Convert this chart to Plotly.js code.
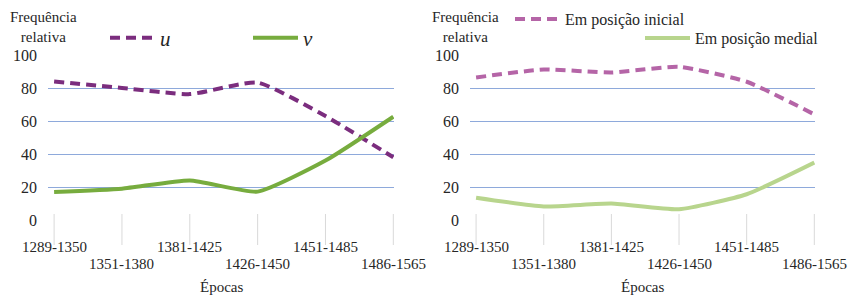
<!DOCTYPE html>
<html><head><meta charset="utf-8">
<script src="https://cdn.plot.ly/plotly-3.0.1.min.js"></script>
<style>
html,body{margin:0;padding:0;background:#fff}
#chart text{font-family:"Liberation Serif","Times New Roman",serif !important;}
#tick{position:absolute;left:0;top:0;font:1px "Liberation Serif";color:#fff}
</style>
</head><body>
<div id="chart" style="width:850px;height:296px"></div>
<span id="tick">.</span>
<script>
const categories = ["1289-1350","1351-1380","1381-1425","1426-1450","1451-1485","1486-1565"];
const uValues = [84, 80, 76.3, 83.3, 63, 38];
const vValues = [17, 19, 24, 17.2, 36, 62.6];
const inicialValues = [86.4, 91.2, 89.4, 92.8, 83.8, 64];
const medialValues = [13.5, 8.2, 10, 6.5, 15.6, 34.8];
const yTickVals = [0, 20, 40, 60, 80, 100];
const yTitle = "Frequência<br>relativa";
const xTitle = "Épocas";

const W = 850, H = 296;
const serif = "Liberation Serif";
const txt = "#262626";
const grid = "#8EA9DB";
const dLeft = [48/W, 394/W], dRight = [470/W, 815/W];
const yDom = [1 - 220/H, 1 - 55/H];

const traces = [
  {x: categories, y: uValues, name: "u", type: "scatter", mode: "lines", xaxis: "x", yaxis: "y",
   line: {color: "#7B2D7E", width: 4, dash: "10px,6px", shape: "spline", smoothing: 0.5}, legend: "legend"},
  {x: categories, y: vValues, name: "v", type: "scatter", mode: "lines", xaxis: "x", yaxis: "y",
   line: {color: "#77AC3E", width: 4, shape: "spline", smoothing: 0.5}, legend: "legend"},
  {x: categories, y: inicialValues, name: "Em posição inicial", type: "scatter", mode: "lines", xaxis: "x2", yaxis: "y2",
   line: {color: "#B565A7", width: 4, dash: "10px,6px", shape: "spline", smoothing: 0.5}, legend: "legend2"},
  {x: categories, y: medialValues, name: "Em posição medial", type: "scatter", mode: "lines", xaxis: "x2", yaxis: "y2",
   line: {color: "#B8D58D", width: 4, shape: "spline", smoothing: 0.5}, legend: "legend3"}
];

function xa(dom, anchor) {
  return {domain: dom, anchor: anchor, type: "category", range: [-0.09, 5.01],
    showgrid: false, zeroline: false, showline: false, showticklabels: false, ticks: "", fixedrange: true};
}
function ya(dom, anchor) {
  return {domain: dom, anchor: anchor, range: [0, 100], tickvals: yTickVals,
    showgrid: true, gridcolor: grid, gridwidth: 1, zeroline: false, showline: false,
    ticks: "", ticklabelstandoff: 10, tickfont: {family: serif, size: 16, color: txt}, fixedrange: true};
}

const annotations = [];
const shapes = [];
[["x", dLeft], ["x2", dRight]].forEach(([ax, dom]) => {
  categories.forEach((c, i) => {
    annotations.push({xref: ax, yref: "paper", x: c, y: i % 2 === 0 ? 1 - 247/H : 1 - 264/H,
      text: c, showarrow: false, xanchor: "center", yanchor: "middle",
      font: {family: serif, size: 15, color: txt}});
    shapes.push({type: "line", xref: ax, yref: "paper", x0: c, x1: c,
      y0: 1 - 245/H, y1: 1 - 214/H, line: {color: "#D9D9D9", width: 1}, layer: "below"});
  });
  annotations.push({xref: "paper", yref: "paper", x: (dom[0] + dom[1]) / 2, y: 1 - 287/H,
    text: xTitle, showarrow: false, xanchor: "center", yanchor: "middle",
    font: {family: serif, size: 15, color: txt}});
});
[43, 465].forEach(px => {
  annotations.push({xref: "paper", yref: "paper", x: px/W, y: 1 - 27/H, text: yTitle, showarrow: false,
    xanchor: "center", yanchor: "middle", align: "center", font: {family: serif, size: 15, color: txt}});
});

const legBase = {orientation: "h", xanchor: "left", yanchor: "middle", bgcolor: "rgba(0,0,0,0)",
  borderwidth: 0, itemwidth: 45, itemclick: false, itemdoubleclick: false};

const layout = {
  width: W, height: H, margin: {l: 0, r: 0, t: 0, b: 0},
  font: {family: serif, size: 15, color: txt},
  paper_bgcolor: "#fff", plot_bgcolor: "#fff",
  xaxis: xa(dLeft, "y"), yaxis: ya(yDom, "x"),
  xaxis2: xa(dRight, "y2"), yaxis2: ya(yDom, "x2"),
  legend: Object.assign({}, legBase, {x: 105/W, y: 1 - 38/H, entrywidth: 83, entrywidthmode: "pixels",
    font: {family: serif, size: 21, color: txt, style: "italic"}}),
  legend2: Object.assign({}, legBase, {x: 510/W, y: 1 - 19/H, font: {family: serif, size: 16, color: txt}}),
  legend3: Object.assign({}, legBase, {x: 640/W, y: 1 - 38/H, font: {family: serif, size: 16, color: txt}}),
  annotations: annotations, shapes: shapes, showlegend: true
};

Plotly.newPlot("chart", traces, layout, {displayModeBar: false}).then(gd => {
  const out = [];
  gd.querySelectorAll("text").forEach(t => out.push(t.getAttribute("style") || ""));
  document.getElementById("tick").textContent = out.length ? "." : "";
});
</script>
</body></html>
